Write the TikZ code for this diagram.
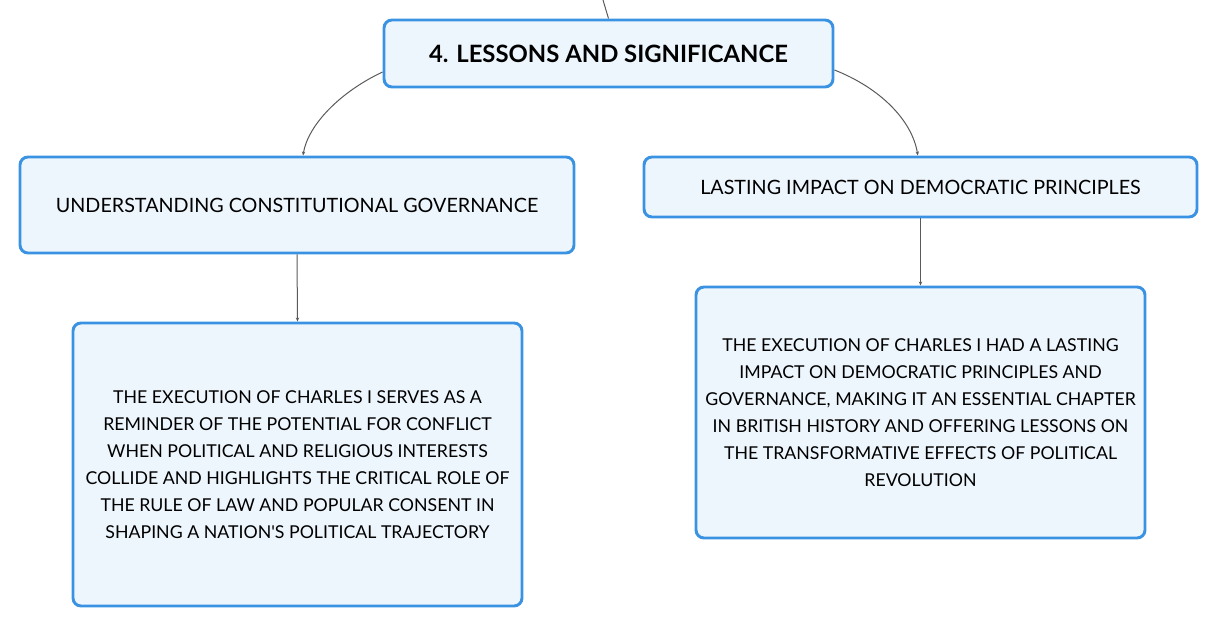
\documentclass[tikz,border=0pt]{standalone}
\usepackage{fontspec}
\setmainfont{Lato}
\newfontfamily\plainlato{Lato}
\usetikzlibrary{arrows.meta}

\definecolor{boxline}{RGB}{58,146,226}
\definecolor{boxfill}{RGB}{238,246,253}
\definecolor{linkgray}{RGB}{90,90,90}

\tikzset{
  card/.style={draw=boxline, line width=2.2pt, fill=boxfill, rounded corners=6pt,
    align=center, inner sep=0pt},
  bodytext/.style={font=\fontsize{13.3}{20.25}\selectfont},
  link/.style={draw=linkgray, line width=0.75pt, -{Stealth[length=3pt,width=2.5pt]}}
}

\begin{document}
\begin{tikzpicture}[x=0.75pt,y=0.75pt,yscale=-1,xscale=1]
\useasboundingbox (0,0) rectangle (1217,627);

%Title box
\node[card, minimum width=336.75pt, minimum height=50.25pt,
  font=\fontsize{17.9}{21}\selectfont\bfseries] (title) at (608.5,53.5)
  {4. LESSONS AND SIGNIFICANCE};
%Branch boxes
\node[card, minimum width=415.5pt, minimum height=72pt,
  font=\fontsize{14.8}{17}\selectfont] (govern) at (297,205)
  {UNDERSTANDING CONSTITUTIONAL GOVERNANCE};
\node[card, minimum width=414.75pt, minimum height=45pt,
  font=\fontsize{14.8}{17}\selectfont] (impact) at (920.5,187)
  {LASTING IMPACT ON DEMOCRATIC PRINCIPLES};
%Text boxes
\node[card, bodytext, minimum width=336.75pt, minimum height=212.25pt] (governtxt) at (297.5,464.5)
  {THE EXECUTION OF CHARLES I SERVES AS A\\
   REMINDER OF THE POTENTIAL FOR CONFLICT\\
   WHEN POLITICAL AND RELIGIOUS INTERESTS\\
   COLLIDE AND HIGHLIGHTS THE CRITICAL ROLE OF\\
   THE RULE OF LAW AND POPULAR CONSENT IN\\
   SHAPING A NATION{\plainlato '}S POLITICAL TRAJECTORY};
\node[card, bodytext, minimum width=336.75pt, minimum height=188.25pt] (impacttxt) at (920.5,412.5)
  {THE EXECUTION OF CHARLES I HAD A LASTING\\
   IMPACT ON DEMOCRATIC PRINCIPLES AND\\
   GOVERNANCE, MAKING IT AN ESSENTIAL CHAPTER\\
   IN BRITISH HISTORY AND OFFERING LESSONS ON\\
   THE TRANSFORMATIVE EFFECTS OF POLITICAL\\
   REVOLUTION};

%Incoming line from above
\coordinate (parent) at (603,0);
\draw[draw=linkgray, line width=0.75pt] (parent) -- (title.north);

%Curved links
\draw[link] (title.west |- 0,72) .. controls (340,92) and (308,125) .. ([xshift=4.5pt]govern.north);
\draw[link] (title.east |- 0,70) .. controls (880,88) and (912,120) .. ([xshift=-2pt]impact.north);
%Straight links
\draw[link] (govern.south) -- (governtxt.north);
\draw[link] (impact.south) -- (impacttxt.north);

\end{tikzpicture}
\end{document}
